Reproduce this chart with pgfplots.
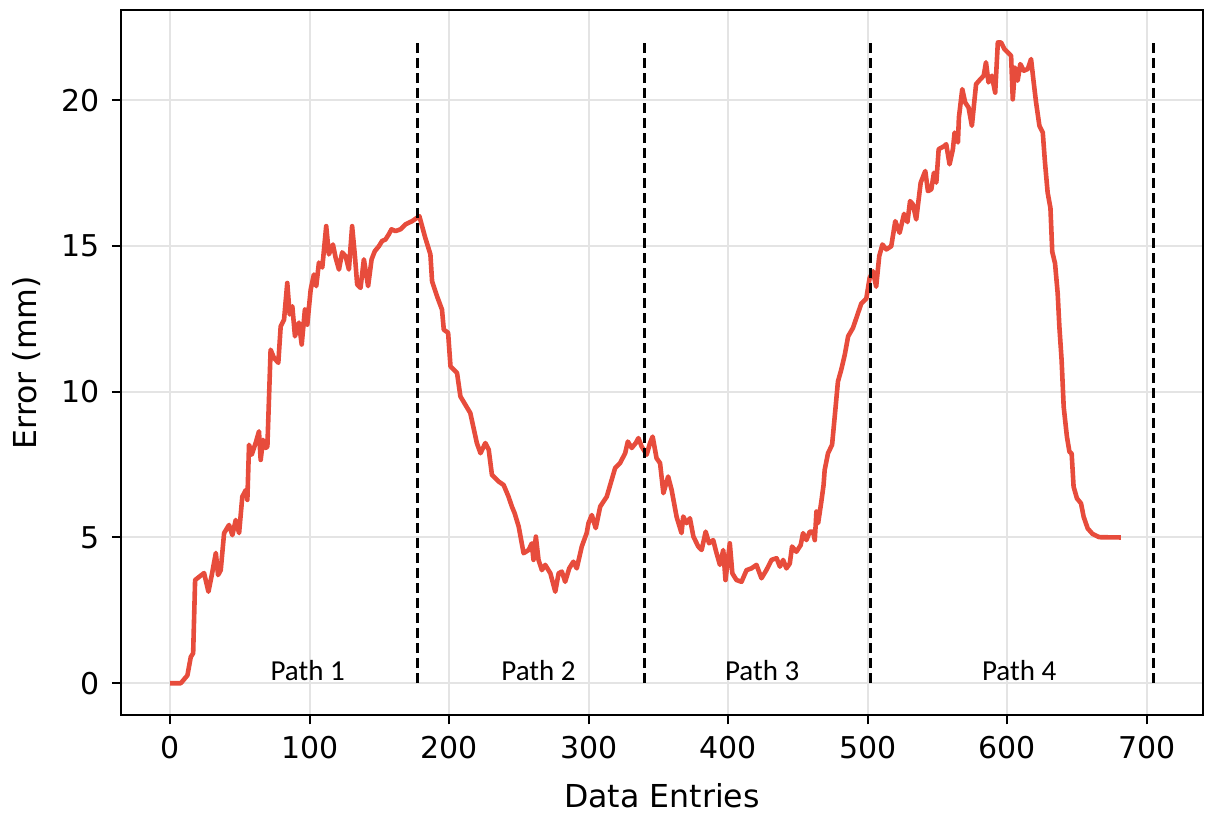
\documentclass[border=0pt]{standalone}
\usepackage{pgfplots}
\pgfplotsset{compat=1.18}
\usepackage{fontspec}
\setmainfont{DejaVu Sans}
\newfontfamily\carlito{Carlito}
\definecolor{errred}{RGB}{231,76,60}
\definecolor{gridgray}{RGB}{228,228,228}
\begin{document}
\begin{tikzpicture}
\useasboundingbox (-60.5pt,-50.35pt) rectangle (542pt,357.65pt);
\begin{axis}[
  scale only axis,
  width=541pt, height=352.75pt,
  xmin=-35.25, xmax=740.25,
  ymin=-1.1, ymax=23.1,
  xtick={0,100,...,700},
  ytick={0,5,...,20},
  xtick pos=lower, ytick pos=left,
  grid=major,
  major grid style={color=gridgray, line width=1pt},
  axis line style={line width=1pt},
  tick align=outside,
  major tick length=4.5pt,
  tick style={black, line width=1pt},
  /pgf/number format/assume math mode=true,
  tick label style={font=\fontsize{15}{18}\selectfont},
  xticklabel style={yshift=-2.5pt},
  yticklabel style={xshift=-2.5pt},
  xlabel={Data Entries},
  ylabel={Error (mm)},
  label style={font=\fontsize{15.8}{19}\selectfont},
  x label style={at={(axis description cs:0.5,0)}, anchor=center, yshift=-40pt},
  y label style={at={([xshift=-47pt]axis description cs:0,0.5)}, anchor=center},
  clip=false,
]
\addplot[errred, line width=2.3pt, line join=round] coordinates {
(0,0) (7.6,0) (12.35,0.27) (14.76,0.9) (16.46,1.03) (17.87,3.54) (20.78,3.65)
(24.29,3.78) (27.41,3.14) (29.81,3.71) (32.73,4.47) (34.33,3.71) (36.24,3.88)
(38.65,5.15) (42.16,5.43) (44.57,5.08) (46.98,5.6) (49.39,5.15) (51.7,6.4)
(54.21,6.63) (55.31,6.29) (56.52,8.18) (58.42,7.84) (61.34,8.25) (63.64,8.64)
(64.85,7.66) (66.56,8.35) (68.46,8.07) (69.67,8.12) (71.98,11.44) (74.39,11.16)
(77.5,10.99) (79.2,12.24) (81.61,12.47) (83.92,13.73) (85.63,12.65) (87.54,12.93)
(89.44,11.9) (92.25,12.37) (94.26,11.62) (96.57,12.82) (98.28,12.3) (100.69,13.5)
(103.0,14.02) (104.7,13.62) (106.61,14.43) (109.02,14.26) (111.83,15.68)
(113.74,14.71) (116.65,15.05) (118.56,14.6) (120.97,14.19) (123.27,14.78)
(125.68,14.65) (128.09,14.19) (130.4,15.68) (132.41,14.65) (134.02,13.68)
(136.42,13.56) (138.83,14.54) (141.85,13.62) (144.36,14.54) (146.66,14.82)
(149.58,14.99) (151.88,15.17) (154.29,15.22) (156.7,15.4) (158.61,15.57)
(161.52,15.51) (165.03,15.57) (168.65,15.74) (173.37,15.85) (178.6,16.02)
(182.7,15.3) (186.5,14.71) (187.7,13.79) (191.2,13.28) (194.8,12.82) (196.1,12.13)
(199.2,12.02) (200.9,10.87) (205.6,10.64) (208.0,9.84) (211.6,9.55) (215.1,9.27)
(219.8,8.24) (222.4,7.89) (225.9,8.24) (228.3,8.01) (230.6,7.15) (235.4,6.92)
(239.0,6.8) (242.5,6.4) (244.9,6.06) (246.9,5.83) (249.8,5.37) (253.3,4.46)
(256.9,4.57) (259.2,4.8) (260.4,4.23) (262.1,5.03) (264.0,4.23) (266.4,3.88)
(268.8,4.06) (272.5,3.77) (276.0,3.14) (278.4,3.77) (280.7,3.83) (283.1,3.48)
(286.0,3.94) (289.0,4.17) (291.4,3.94) (295.0,4.69) (298.5,5.15) (299.8,5.49)
(302.2,5.77) (305.0,5.32) (308.2,6.06) (312.9,6.4) (318.9,7.38) (322.4,7.55)
(326.1,7.89) (328.0,8.29) (330.8,8.07) (333.7,8.24) (335.6,8.41) (337.9,8.12)
(341.5,7.84) (343.9,8.24) (345.8,8.46) (348.6,7.72) (351.1,7.55) (353.5,6.52)
(356.9,7.09) (359.4,6.63) (363.0,5.7) (366.5,5.15) (367.7,5.72) (370.1,5.49)
(372.5,5.66) (375.0,5.03) (378.5,4.69) (380.9,4.57) (383.8,5.2) (386.2,4.8)
(389.2,4.91) (391.6,4.46) (394.0,4.06) (396.4,4.57) (398.0,3.54) (401.1,4.8)
(402.9,3.77) (405.9,3.54) (409.5,3.48) (413.1,3.88) (416.6,3.94) (420.2,4.06)
(423.8,3.6) (427.3,3.88) (431.0,4.23) (434.6,4.29) (437.0,4.0) (439.3,4.23)
(441.7,3.94) (444.1,4.11) (445.7,4.69) (448.8,4.51) (451.9,4.74) (453.6,5.15)
(456.0,4.91) (458.4,5.2) (460.8,5.2) (462.0,4.91) (463.2,5.89) (464.4,5.49)
(466.7,6.23) (468.3,6.8) (469.1,7.32) (471.5,7.89) (474.4,8.18) (476.3,9.15)
(478.6,10.35) (481.0,10.76) (483.5,11.27) (485.9,11.9) (489.4,12.19) (491.8,12.53)
(495.3,13.02) (498.9,13.19) (501.3,13.9) (503.7,14.13) (506.0,13.6) (508.2,14.65)
(510.5,15.05) (513.3,14.88) (516.8,14.99) (519.7,15.85) (522.8,15.45) (526.0,16.1)
(528.4,15.82) (530.3,16.54) (532.3,16.43) (534.7,15.91) (537.9,17.17) (541.2,17.57)
(543.1,16.88) (545.5,16.94) (547.4,17.51) (549.1,17.17) (550.8,18.32) (555.0,18.43)
(556.2,18.49) (558.6,17.8) (561.0,18.32) (562.2,18.89) (564.6,18.55) (565.3,19.41)
(567.7,20.38) (569.8,19.92) (572.2,19.75) (574.6,19.12) (577.6,20.55) (580.7,20.72)
(583.1,20.84) (584.7,21.3) (586.5,20.61) (588.9,20.84) (591.3,20.26) (593.2,21.98)
(595.5,21.98) (597.9,21.75) (600.3,21.64) (602.7,21.52) (603.9,20.03) (605.5,21.12)
(607.4,20.67) (609.3,21.24) (611.8,21.01) (614.7,21.07) (617.0,21.41) (618.9,20.61)
(620.6,19.92) (623.0,19.12) (625.4,18.89) (627.0,17.86) (628.9,16.83) (630.9,16.3)
(632.2,14.8) (634.2,14.4) (636.1,13.37) (637.3,12.23) (638.9,11.09) (640.4,9.48)
(642.7,8.46) (644.5,7.94) (646.1,7.88) (647.5,6.74) (649.9,6.34) (652.8,6.17)
(654.7,5.71) (657.6,5.31) (661.1,5.12) (665.9,5.01) (681.4,5.0)
};
\addplot[black, line width=1.5pt, dash pattern=on 5pt off 2.5pt] coordinates {(177,0) (177,22)};
\addplot[black, line width=1.5pt, dash pattern=on 5pt off 2.5pt] coordinates {(340,0) (340,22)};
\addplot[black, line width=1.5pt, dash pattern=on 5pt off 2.5pt] coordinates {(502,0) (502,22)};
\addplot[black, line width=1.5pt, dash pattern=on 5pt off 2.5pt] coordinates {(705,0) (705,22)};
\node[anchor=base, font=\carlito\fontsize{14.5}{17}\selectfont] at (axis cs:98.5,0.11) {Path 1};
\node[anchor=base, font=\carlito\fontsize{14.5}{17}\selectfont] at (axis cs:264,0.11) {Path 2};
\node[anchor=base, font=\carlito\fontsize{14.5}{17}\selectfont] at (axis cs:424.3,0.11) {Path 3};
\node[anchor=base, font=\carlito\fontsize{14.5}{17}\selectfont] at (axis cs:608.5,0.11) {Path 4};
\end{axis}
\end{tikzpicture}
\end{document}
